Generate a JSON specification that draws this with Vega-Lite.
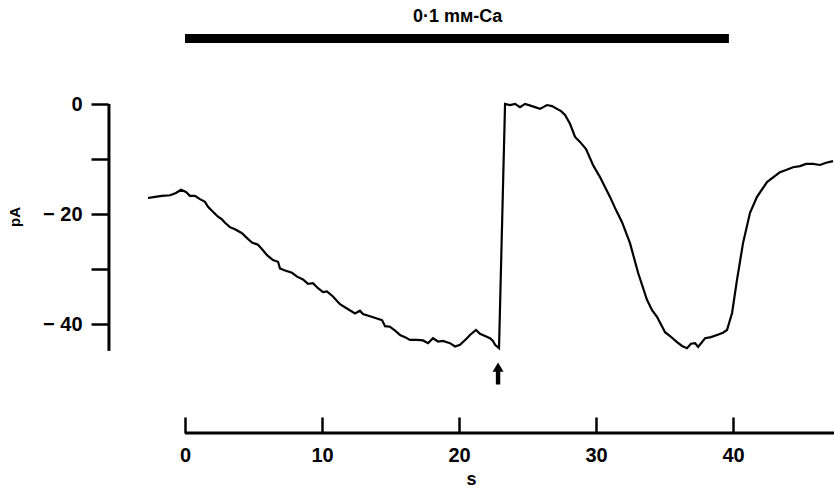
{
  "$schema": "https://vega.github.io/schema/vega-lite/v6.json",
  "width": 726,
  "height": 433,
  "autosize": "none",
  "padding": {"left": 108, "top": 0, "right": 0, "bottom": 56},
  "background": "white",
  "config": {
    "view": {"stroke": null},
    "font": "Liberation Sans",
    "axis": {"grid": false}
  },
  "datasets": {
    "trace": [
      {"t": -2.70, "pA": -17.0}, {"t": -2.19, "pA": -16.8}, {"t": -1.68, "pA": -16.6}, {"t": -1.09, "pA": -16.5},
      {"t": -0.66, "pA": -16.1}, {"t": -0.29, "pA": -15.5}, {"t": 0.07, "pA": -15.9}, {"t": 0.36, "pA": -16.6},
      {"t": 0.73, "pA": -16.6}, {"t": 1.09, "pA": -17.2}, {"t": 1.46, "pA": -17.7}, {"t": 1.68, "pA": -18.6},
      {"t": 2.04, "pA": -19.5}, {"t": 2.41, "pA": -20.4}, {"t": 2.70, "pA": -20.9}, {"t": 2.92, "pA": -21.5},
      {"t": 3.28, "pA": -22.3}, {"t": 3.65, "pA": -22.7}, {"t": 4.16, "pA": -23.4}, {"t": 4.53, "pA": -24.3},
      {"t": 4.89, "pA": -25.1}, {"t": 5.33, "pA": -25.5}, {"t": 5.69, "pA": -26.5}, {"t": 5.99, "pA": -27.4},
      {"t": 6.42, "pA": -28.3}, {"t": 6.79, "pA": -28.6}, {"t": 6.93, "pA": -29.8}, {"t": 7.30, "pA": -30.2},
      {"t": 7.81, "pA": -30.6}, {"t": 8.18, "pA": -31.3}, {"t": 8.61, "pA": -31.8}, {"t": 8.98, "pA": -32.6},
      {"t": 9.34, "pA": -32.5}, {"t": 9.71, "pA": -33.4}, {"t": 10.07, "pA": -34.1}, {"t": 10.36, "pA": -34.0},
      {"t": 10.80, "pA": -34.9}, {"t": 11.31, "pA": -36.3}, {"t": 11.82, "pA": -37.1}, {"t": 12.41, "pA": -38.0},
      {"t": 12.77, "pA": -37.5}, {"t": 12.99, "pA": -38.1}, {"t": 13.50, "pA": -38.5}, {"t": 14.01, "pA": -38.9},
      {"t": 14.38, "pA": -39.2}, {"t": 14.60, "pA": -40.3}, {"t": 14.96, "pA": -40.4}, {"t": 15.33, "pA": -41.1},
      {"t": 15.69, "pA": -41.9}, {"t": 16.06, "pA": -42.3}, {"t": 16.42, "pA": -42.8}, {"t": 16.93, "pA": -42.8},
      {"t": 17.37, "pA": -42.9}, {"t": 17.74, "pA": -43.4}, {"t": 18.10, "pA": -42.5}, {"t": 18.47, "pA": -43.1},
      {"t": 18.83, "pA": -43.0}, {"t": 19.34, "pA": -43.4}, {"t": 19.71, "pA": -44.0}, {"t": 20.07, "pA": -43.7},
      {"t": 20.58, "pA": -42.5}, {"t": 20.80, "pA": -41.9}, {"t": 21.24, "pA": -41.0}, {"t": 21.53, "pA": -41.7},
      {"t": 21.90, "pA": -42.1}, {"t": 22.26, "pA": -42.5}, {"t": 22.48, "pA": -43.0}, {"t": 22.63, "pA": -43.7},
      {"t": 22.92, "pA": -44.3}, {"t": 23.36, "pA": 0.1}, {"t": 23.72, "pA": -0.1}, {"t": 24.09, "pA": 0.1},
      {"t": 24.45, "pA": -0.5}, {"t": 24.82, "pA": 0.1}, {"t": 25.33, "pA": -0.3}, {"t": 25.91, "pA": -0.8},
      {"t": 26.42, "pA": -0.1}, {"t": 26.79, "pA": -0.3}, {"t": 27.15, "pA": -0.8}, {"t": 27.45, "pA": -1.2},
      {"t": 27.74, "pA": -1.9}, {"t": 28.10, "pA": -3.5}, {"t": 28.47, "pA": -5.9}, {"t": 28.83, "pA": -6.8},
      {"t": 29.27, "pA": -8.1}, {"t": 29.78, "pA": -11.0}, {"t": 30.29, "pA": -13.2}, {"t": 31.02, "pA": -16.8},
      {"t": 31.46, "pA": -19.2}, {"t": 31.90, "pA": -21.4}, {"t": 32.48, "pA": -25.2}, {"t": 33.07, "pA": -30.6},
      {"t": 33.72, "pA": -35.5}, {"t": 34.09, "pA": -37.4}, {"t": 34.45, "pA": -38.6}, {"t": 35.04, "pA": -41.4},
      {"t": 35.40, "pA": -42.1}, {"t": 35.91, "pA": -43.2}, {"t": 36.28, "pA": -43.9}, {"t": 36.64, "pA": -44.3},
      {"t": 36.93, "pA": -43.5}, {"t": 37.23, "pA": -43.4}, {"t": 37.45, "pA": -44.1}, {"t": 37.96, "pA": -42.5},
      {"t": 38.39, "pA": -42.3}, {"t": 38.83, "pA": -41.9}, {"t": 39.27, "pA": -41.5}, {"t": 39.56, "pA": -41.0},
      {"t": 39.93, "pA": -37.9}, {"t": 40.29, "pA": -31.9}, {"t": 40.73, "pA": -25.2}, {"t": 41.24, "pA": -19.7},
      {"t": 41.75, "pA": -16.8}, {"t": 42.48, "pA": -14.1}, {"t": 43.07, "pA": -13.0}, {"t": 43.43, "pA": -12.3},
      {"t": 43.87, "pA": -11.9}, {"t": 44.38, "pA": -11.4}, {"t": 44.89, "pA": -11.2}, {"t": 45.33, "pA": -10.8},
      {"t": 45.84, "pA": -10.8}, {"t": 46.35, "pA": -11.0}, {"t": 46.79, "pA": -10.6}, {"t": 47.30, "pA": -10.3}
    ],
    "yaxisline": [{"t": -5.55, "pA": -44.8, "pA2": 0.1}],
    "xaxisline": [{"t": 0, "t2": 47.37, "pA": -59.73}],
    "bar": [{"t": 0, "t2": 39.7, "pA": 12.0, "label": "0·1 mᴍ-Ca", "mid": 19.9, "ly": 15.9}],
    "arrow": [{"t": 22.85, "pA": -48.9}]
  },
  "layer": [
    {
      "data": {"name": "trace"},
      "mark": {"type": "line", "color": "black", "strokeWidth": 2.2, "clip": false},
      "encoding": {
        "x": {
          "field": "t", "type": "quantitative",
          "scale": {"domain": [-5.62, 47.37], "nice": false, "zero": false},
          "axis": {
            "values": [0, 10, 20, 30, 40], "domain": false,
            "tickSize": -16, "tickWidth": 2.5, "tickColor": "black",
            "labelFontSize": 20, "labelFontWeight": "bold", "labelColor": "black", "labelPadding": 28,
            "title": "s", "titleFontSize": 18, "titleFontWeight": "bold", "titleColor": "black", "titlePadding": 5
          }
        },
        "y": {
          "field": "pA", "type": "quantitative",
          "scale": {"domain": [-59.73, 19.0], "nice": false, "zero": false},
          "axis": {
            "values": [0, -10, -20, -30, -40], "domain": false,
            "labelExpr": "datum.value == 0 ? '0' : (datum.value % 20 == 0 ? '− ' + abs(datum.value) : '')",
            "tickSize": 17, "tickWidth": 2.5, "tickColor": "black",
            "labelFontSize": 20, "labelFontWeight": "bold", "labelColor": "black", "labelPadding": 9,
            "title": "pA", "titleFontSize": 15, "titleFontWeight": "bold", "titleColor": "black", "titlePadding": 20
          }
        }
      }
    },
    {
      "data": {"name": "yaxisline"},
      "mark": {"type": "rule", "color": "black", "strokeWidth": 3},
      "encoding": {
        "x": {"field": "t", "type": "quantitative"},
        "y": {"field": "pA", "type": "quantitative"},
        "y2": {"field": "pA2"}
      }
    },
    {
      "data": {"name": "xaxisline"},
      "mark": {"type": "rule", "color": "black", "strokeWidth": 3},
      "encoding": {
        "x": {"field": "t", "type": "quantitative"},
        "x2": {"field": "t2"},
        "y": {"field": "pA", "type": "quantitative"}
      }
    },
    {
      "data": {"name": "bar"},
      "mark": {"type": "rule", "color": "black", "strokeWidth": 9, "strokeCap": "butt"},
      "encoding": {
        "x": {"field": "t", "type": "quantitative"},
        "x2": {"field": "t2"},
        "y": {"field": "pA", "type": "quantitative"}
      }
    },
    {
      "data": {"name": "bar"},
      "mark": {"type": "text", "fontSize": 18, "fontWeight": "bold", "color": "black", "baseline": "middle", "align": "center", "font": "Liberation Sans"},
      "encoding": {
        "x": {"field": "mid", "type": "quantitative"},
        "y": {"field": "ly", "type": "quantitative"},
        "text": {"field": "label"}
      }
    },
    {
      "data": {"name": "arrow"},
      "mark": {"type": "point", "filled": true, "color": "black", "opacity": 1, "size": 484,
        "shape": "M0,-1 L0.5,-0.15 L0.2,-0.15 L0.2,1 L-0.2,1 L-0.2,-0.15 L-0.5,-0.15 Z"},
      "encoding": {
        "x": {"field": "t", "type": "quantitative"},
        "y": {"field": "pA", "type": "quantitative"}
      }
    }
  ]
}
